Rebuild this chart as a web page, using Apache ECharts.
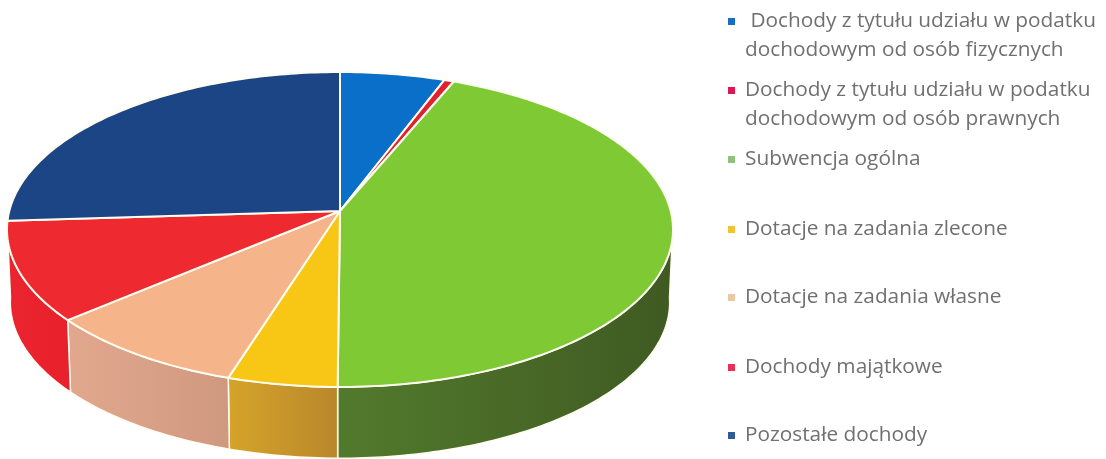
<!DOCTYPE html>
<html>
<head>
<meta charset="utf-8">
<style>
html, body { margin: 0; padding: 0; background: #fff; }
#chart { width: 1106px; height: 459px; }
</style>
<script src="https://cdn.jsdelivr.net/npm/echarts@6/dist/echarts.min.js"></script>
</head>
<body>
<div id="chart"></div>
<script>
var categories = [
    'Dochody z tytułu udziału w podatku\ndochodowym od osób fizycznych',
    'Dochody z tytułu udziału w podatku\ndochodowym od osób prawnych',
    'Subwencja ogólna',
    'Dotacje na zadania zlecone',
    'Dotacje na zadania własne',
    'Dochody majątkowe',
    'Pozostałe dochody'
];
// udzial w procentach
var values = [5.7, 0.53, 43.87, 4.75, 8.9, 10.25, 26.0];

var topColors = ['#0a6fc9', '#e3202f', '#7fc935', '#f8c614', '#f6b48a', '#ee2a30', '#1b4585'];
var wallColors = [
    ['#0a5fa9', '#0a5fa9'],
    ['#c01c2a', '#c01c2a'],
    ['#527a2c', '#3f5a22'],
    ['#d6a42a', '#b9872c'],
    ['#e2a88e', '#cf997f'],
    ['#ea2430', '#e8202c'],
    ['#163a70', '#163a70']
];
var legendColors = ['#1570c5', '#e0174f', '#8cc27a', '#f2c230', '#eac8a6', '#e8305a', '#2f5a96'];
var legendTops = [22, 91, 160, 230, 298, 368, 436];

// geometria dysku w perspektywie
var cx = 340, cy = 211;
var radiusX = 330.7, radiusY = 155.3, persp = 0.1175;
var depth = 73, shrink = 0.99;
var wallFrom = 95, wallTo = 265;

var total = values.reduce(function (a, b) { return a + b; }, 0);

function rim(deg) {
    var t = deg * Math.PI / 180;
    var w = 1 + persp * Math.cos(t);
    return [radiusX * Math.sin(t) / w, -radiusY * Math.cos(t) / w];
}

function topPoint(deg) {
    var p = rim(deg);
    return [cx + p[0], cy + p[1]];
}

function bottomPoint(deg) {
    var p = rim(deg);
    return [cx + p[0] * shrink, cy + p[1] * shrink + depth];
}

function renderSlice(index) {
    return function (params, api) {
        var start = 0;
        for (var i = 0; i < index; i++) {
            start += values[i];
        }
        var a0 = start / total * 360;
        var a1 = a0 + api.value(0) / total * 360;
        var children = [];
        var d;

        // sciana boczna, tylko z przodu
        var w0 = Math.max(a0, wallFrom), w1 = Math.min(a1, wallTo);
        if (w1 > w0) {
            var wall = [];
            for (d = w0; d < w1; d += 1) {
                wall.push(topPoint(d));
            }
            wall.push(topPoint(w1));
            wall.push(bottomPoint(w1));
            for (d = w1; d > w0; d -= 1) {
                wall.push(bottomPoint(d));
            }
            wall.push(bottomPoint(w0));
            children.push({
                type: 'polygon',
                z2: 1,
                shape: { points: wall },
                style: {
                    fill: new echarts.graphic.LinearGradient(0, 0, 1, 0, [
                        { offset: 0, color: wallColors[index][0] },
                        { offset: 1, color: wallColors[index][1] }
                    ]),
                    stroke: '#fffdf0',
                    lineWidth: 1.5
                }
            });
        }

        // wierzch
        var face = [[cx, cy]];
        for (d = a0; d < a1; d += 1) {
            face.push(topPoint(d));
        }
        face.push(topPoint(a1));
        children.push({
            type: 'polygon',
            z2: 2,
            shape: { points: face },
            style: {
                fill: topColors[index],
                stroke: '#fffdf0',
                lineWidth: 2,
                lineJoin: 'round'
            }
        });
        return { type: 'group', children: children };
    };
}

var myChart = echarts.init(document.getElementById('chart'), null, { renderer: 'canvas' });

var labelFont = 'Open Sans';
var labelSize = 20.8;
var labelColor = '#707070';
var secondLines = [];
categories.forEach(function (name, i) {
    var parts = name.split('\n');
    if (parts.length > 1) {
        secondLines.push({
            type: 'text',
            left: 745,
            top: legendTops[i] + 29 - 15,
            silent: true,
            style: {
                text: parts[1],
                fontFamily: labelFont,
                fontSize: labelSize,
                lineHeight: 29,
                fill: labelColor
            }
        });
    }
});

var option = {
    animation: false,
    backgroundColor: '#ffffff',
    graphic: secondLines,
    legend: categories.map(function (name, i) {
        return {
            orient: 'vertical',
            left: 728,
            top: legendTops[i] - 15,
            padding: 0,
            selectedMode: false,
            icon: 'rect',
            itemWidth: 7,
            itemHeight: 7,
            formatter: function (n) {
                var first = n.split('\n')[0];
                return i === 0 ? ' ' + first : first;
            },
            textStyle: {
                fontFamily: labelFont,
                fontSize: labelSize,
                lineHeight: 29,
                color: labelColor,
                padding: [0, 0, 0, 5]
            },
            data: [{ name: name, itemStyle: { color: legendColors[i] } }]
        };
    }),
    series: categories.map(function (name, i) {
        return {
            type: 'custom',
            name: name,
            coordinateSystem: 'none',
            silent: true,
            itemStyle: { color: topColors[i] },
            renderItem: renderSlice(i),
            data: [[values[i]]]
        };
    })
};

myChart.setOption(option);
</script>
</body>
</html>
